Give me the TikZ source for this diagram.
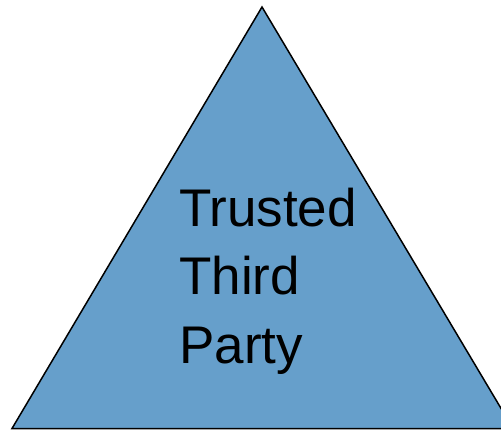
\documentclass[tikz,border=0pt]{standalone}
\usepackage{fontspec}
\setmainfont{Liberation Sans}
\definecolor{tribg}{RGB}{102,159,203}
\tikzset{tri/.style={fill=tribg,draw=black,line width=1.5pt,line join=miter},
  lbl/.style={anchor=base west,inner sep=0pt,font=\fontsize{53}{68}\selectfont,align=left}}
\begin{document}
\begin{tikzpicture}[x=1pt,y=-1pt]
\useasboundingbox (0,0) rectangle (501,430);
\clip (0,0) rectangle (501,430);
\draw[tri] (262,7) -- (513,428.5) -- (12,428.5) -- cycle;
\node[lbl] (t1) at (179,227) {Trusted};
\node[lbl] (t2) at (179,295) {Third};
\node[lbl] (t3) at (179,364) {Party};
\end{tikzpicture}
\end{document}
